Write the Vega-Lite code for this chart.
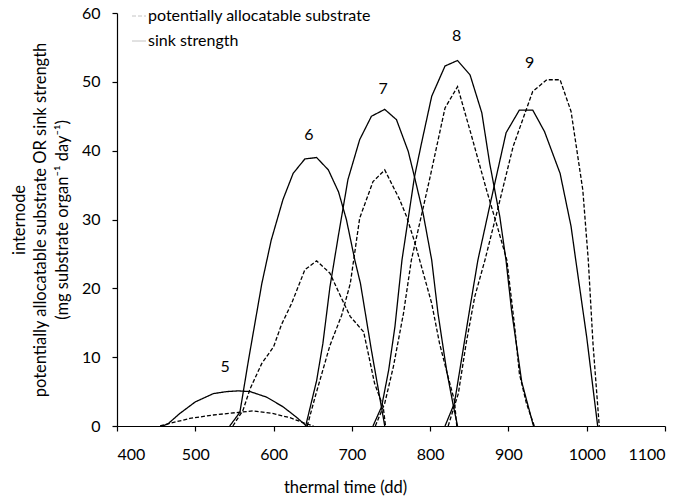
{
  "$schema": "https://vega.github.io/schema/vega-lite/v6.json",
  "width": 548,
  "height": 413,
  "autosize": "none",
  "padding": {"left": 117, "top": 13, "right": 29, "bottom": 72},
  "background": "white",
  "config": {
    "view": {"stroke": null},
    "font": "Lato",
    "axis": {
      "grid": false,
      "domainColor": "#000000",
      "domainWidth": 1.2,
      "tickColor": "#000000",
      "tickWidth": 1.2,
      "tickSize": 5,
      "labelColor": "#000000",
      "labelFont": "Lato",
      "labelFontSize": 16,
      "titleColor": "#000000",
      "titleFont": "Lato",
      "titleFontSize": 16.5,
      "titleFontWeight": "normal"
    },
    "legend": {
      "orient": "none",
      "legendX": 14,
      "legendY": -5,
      "labelFont": "Lato",
      "labelFontSize": 16,
      "labelColor": "#000000",
      "labelLimit": 400,
      "symbolType": "stroke",
      "symbolSize": 196,
      "symbolStrokeWidth": 1,
      "symbolStrokeColor": "#c4c4c4",
      "rowPadding": 9,
      "labelOffset": 1,
      "padding": 0
    }
  },
  "datasets": {
    "curves": [
      {"internode": 5, "series": "sink strength", "tt": 458, "value": 0},
      {"internode": 5, "series": "sink strength", "tt": 465, "value": 0.3},
      {"internode": 5, "series": "sink strength", "tt": 480, "value": 1.8},
      {"internode": 5, "series": "sink strength", "tt": 500, "value": 3.5},
      {"internode": 5, "series": "sink strength", "tt": 523, "value": 4.7},
      {"internode": 5, "series": "sink strength", "tt": 540, "value": 5.0},
      {"internode": 5, "series": "sink strength", "tt": 555, "value": 5.1},
      {"internode": 5, "series": "sink strength", "tt": 570, "value": 5.0},
      {"internode": 5, "series": "sink strength", "tt": 591, "value": 4.2},
      {"internode": 5, "series": "sink strength", "tt": 612, "value": 2.8},
      {"internode": 5, "series": "sink strength", "tt": 629, "value": 1.3},
      {"internode": 5, "series": "sink strength", "tt": 642, "value": 0},

      {"internode": 6, "series": "sink strength", "tt": 544, "value": 0},
      {"internode": 6, "series": "sink strength", "tt": 557, "value": 2.0},
      {"internode": 6, "series": "sink strength", "tt": 568, "value": 9.6},
      {"internode": 6, "series": "sink strength", "tt": 585, "value": 20.7},
      {"internode": 6, "series": "sink strength", "tt": 597, "value": 27.0},
      {"internode": 6, "series": "sink strength", "tt": 612, "value": 32.9},
      {"internode": 6, "series": "sink strength", "tt": 625, "value": 36.7},
      {"internode": 6, "series": "sink strength", "tt": 640, "value": 38.8},
      {"internode": 6, "series": "sink strength", "tt": 655, "value": 39.0},
      {"internode": 6, "series": "sink strength", "tt": 670, "value": 37.2},
      {"internode": 6, "series": "sink strength", "tt": 683, "value": 34.0},
      {"internode": 6, "series": "sink strength", "tt": 693, "value": 30.0},
      {"internode": 6, "series": "sink strength", "tt": 704, "value": 24.0},
      {"internode": 6, "series": "sink strength", "tt": 711, "value": 20.7},
      {"internode": 6, "series": "sink strength", "tt": 725, "value": 11.0},
      {"internode": 6, "series": "sink strength", "tt": 742, "value": 0},

      {"internode": 7, "series": "sink strength", "tt": 641, "value": 0},
      {"internode": 7, "series": "sink strength", "tt": 655, "value": 6.6},
      {"internode": 7, "series": "sink strength", "tt": 663, "value": 12.0},
      {"internode": 7, "series": "sink strength", "tt": 672, "value": 20.2},
      {"internode": 7, "series": "sink strength", "tt": 683, "value": 27.8},
      {"internode": 7, "series": "sink strength", "tt": 695, "value": 35.8},
      {"internode": 7, "series": "sink strength", "tt": 710, "value": 41.6},
      {"internode": 7, "series": "sink strength", "tt": 725, "value": 45.0},
      {"internode": 7, "series": "sink strength", "tt": 742, "value": 46.0},
      {"internode": 7, "series": "sink strength", "tt": 757, "value": 44.5},
      {"internode": 7, "series": "sink strength", "tt": 772, "value": 39.9},
      {"internode": 7, "series": "sink strength", "tt": 780, "value": 36.2},
      {"internode": 7, "series": "sink strength", "tt": 791, "value": 30.9},
      {"internode": 7, "series": "sink strength", "tt": 802, "value": 24.1},
      {"internode": 7, "series": "sink strength", "tt": 810, "value": 16.4},
      {"internode": 7, "series": "sink strength", "tt": 821, "value": 8.1},
      {"internode": 7, "series": "sink strength", "tt": 829, "value": 3.3},
      {"internode": 7, "series": "sink strength", "tt": 835, "value": 0},

      {"internode": 8, "series": "sink strength", "tt": 727, "value": 0},
      {"internode": 8, "series": "sink strength", "tt": 738, "value": 2.8},
      {"internode": 8, "series": "sink strength", "tt": 747, "value": 8.1},
      {"internode": 8, "series": "sink strength", "tt": 755, "value": 14.4},
      {"internode": 8, "series": "sink strength", "tt": 764, "value": 24.1},
      {"internode": 8, "series": "sink strength", "tt": 780, "value": 36.2},
      {"internode": 8, "series": "sink strength", "tt": 789, "value": 41.1},
      {"internode": 8, "series": "sink strength", "tt": 802, "value": 47.9},
      {"internode": 8, "series": "sink strength", "tt": 819, "value": 52.3},
      {"internode": 8, "series": "sink strength", "tt": 835, "value": 53.1},
      {"internode": 8, "series": "sink strength", "tt": 851, "value": 51.0},
      {"internode": 8, "series": "sink strength", "tt": 866, "value": 45.5},
      {"internode": 8, "series": "sink strength", "tt": 876, "value": 38.2},
      {"internode": 8, "series": "sink strength", "tt": 889, "value": 30.4},
      {"internode": 8, "series": "sink strength", "tt": 897, "value": 24.0},
      {"internode": 8, "series": "sink strength", "tt": 904, "value": 16.8},
      {"internode": 8, "series": "sink strength", "tt": 917, "value": 6.4},
      {"internode": 8, "series": "sink strength", "tt": 932, "value": 0},

      {"internode": 9, "series": "sink strength", "tt": 819, "value": 0},
      {"internode": 9, "series": "sink strength", "tt": 831, "value": 3.3},
      {"internode": 9, "series": "sink strength", "tt": 840, "value": 9.6},
      {"internode": 9, "series": "sink strength", "tt": 851, "value": 17.3},
      {"internode": 9, "series": "sink strength", "tt": 861, "value": 24.1},
      {"internode": 9, "series": "sink strength", "tt": 876, "value": 31.9},
      {"internode": 9, "series": "sink strength", "tt": 897, "value": 42.6},
      {"internode": 9, "series": "sink strength", "tt": 914, "value": 45.9},
      {"internode": 9, "series": "sink strength", "tt": 931, "value": 45.9},
      {"internode": 9, "series": "sink strength", "tt": 946, "value": 42.8},
      {"internode": 9, "series": "sink strength", "tt": 966, "value": 36.7},
      {"internode": 9, "series": "sink strength", "tt": 980, "value": 29.0},
      {"internode": 9, "series": "sink strength", "tt": 986, "value": 24.1},
      {"internode": 9, "series": "sink strength", "tt": 1000, "value": 12.9},
      {"internode": 9, "series": "sink strength", "tt": 1014, "value": 0},

      {"internode": 5, "series": "potentially allocatable substrate", "tt": 455, "value": 0},
      {"internode": 5, "series": "potentially allocatable substrate", "tt": 468, "value": 0.4},
      {"internode": 5, "series": "potentially allocatable substrate", "tt": 493, "value": 1.1},
      {"internode": 5, "series": "potentially allocatable substrate", "tt": 523, "value": 1.6},
      {"internode": 5, "series": "potentially allocatable substrate", "tt": 557, "value": 2.0},
      {"internode": 5, "series": "potentially allocatable substrate", "tt": 574, "value": 2.2},
      {"internode": 5, "series": "potentially allocatable substrate", "tt": 600, "value": 1.8},
      {"internode": 5, "series": "potentially allocatable substrate", "tt": 621, "value": 1.2},
      {"internode": 5, "series": "potentially allocatable substrate", "tt": 640, "value": 0.4},
      {"internode": 5, "series": "potentially allocatable substrate", "tt": 651, "value": 0},

      {"internode": 6, "series": "potentially allocatable substrate", "tt": 548, "value": 0},
      {"internode": 6, "series": "potentially allocatable substrate", "tt": 561, "value": 2.3},
      {"internode": 6, "series": "potentially allocatable substrate", "tt": 570, "value": 5.4},
      {"internode": 6, "series": "potentially allocatable substrate", "tt": 585, "value": 9.1},
      {"internode": 6, "series": "potentially allocatable substrate", "tt": 600, "value": 11.5},
      {"internode": 6, "series": "potentially allocatable substrate", "tt": 610, "value": 14.7},
      {"internode": 6, "series": "potentially allocatable substrate", "tt": 623, "value": 17.8},
      {"internode": 6, "series": "potentially allocatable substrate", "tt": 640, "value": 22.7},
      {"internode": 6, "series": "potentially allocatable substrate", "tt": 655, "value": 24.0},
      {"internode": 6, "series": "potentially allocatable substrate", "tt": 672, "value": 22.2},
      {"internode": 6, "series": "potentially allocatable substrate", "tt": 687, "value": 18.5},
      {"internode": 6, "series": "potentially allocatable substrate", "tt": 698, "value": 15.9},
      {"internode": 6, "series": "potentially allocatable substrate", "tt": 711, "value": 14.2},
      {"internode": 6, "series": "potentially allocatable substrate", "tt": 715, "value": 13.7},
      {"internode": 6, "series": "potentially allocatable substrate", "tt": 721, "value": 10.5},
      {"internode": 6, "series": "potentially allocatable substrate", "tt": 729, "value": 6.2},
      {"internode": 6, "series": "potentially allocatable substrate", "tt": 740, "value": 2.8},
      {"internode": 6, "series": "potentially allocatable substrate", "tt": 743, "value": 0},

      {"internode": 7, "series": "potentially allocatable substrate", "tt": 643, "value": 0},
      {"internode": 7, "series": "potentially allocatable substrate", "tt": 653, "value": 4.2},
      {"internode": 7, "series": "potentially allocatable substrate", "tt": 672, "value": 11.7},
      {"internode": 7, "series": "potentially allocatable substrate", "tt": 687, "value": 16.1},
      {"internode": 7, "series": "potentially allocatable substrate", "tt": 698, "value": 20.7},
      {"internode": 7, "series": "potentially allocatable substrate", "tt": 710, "value": 30.2},
      {"internode": 7, "series": "potentially allocatable substrate", "tt": 727, "value": 35.5},
      {"internode": 7, "series": "potentially allocatable substrate", "tt": 742, "value": 37.2},
      {"internode": 7, "series": "potentially allocatable substrate", "tt": 761, "value": 32.9},
      {"internode": 7, "series": "potentially allocatable substrate", "tt": 770, "value": 30.4},
      {"internode": 7, "series": "potentially allocatable substrate", "tt": 780, "value": 26.8},
      {"internode": 7, "series": "potentially allocatable substrate", "tt": 793, "value": 21.5},
      {"internode": 7, "series": "potentially allocatable substrate", "tt": 802, "value": 17.8},
      {"internode": 7, "series": "potentially allocatable substrate", "tt": 812, "value": 12.0},
      {"internode": 7, "series": "potentially allocatable substrate", "tt": 823, "value": 7.1},
      {"internode": 7, "series": "potentially allocatable substrate", "tt": 831, "value": 3.7},
      {"internode": 7, "series": "potentially allocatable substrate", "tt": 834, "value": 0},

      {"internode": 8, "series": "potentially allocatable substrate", "tt": 730, "value": 0},
      {"internode": 8, "series": "potentially allocatable substrate", "tt": 742, "value": 3.3},
      {"internode": 8, "series": "potentially allocatable substrate", "tt": 753, "value": 8.6},
      {"internode": 8, "series": "potentially allocatable substrate", "tt": 766, "value": 16.4},
      {"internode": 8, "series": "potentially allocatable substrate", "tt": 776, "value": 24.1},
      {"internode": 8, "series": "potentially allocatable substrate", "tt": 800, "value": 36.2},
      {"internode": 8, "series": "potentially allocatable substrate", "tt": 819, "value": 46.2},
      {"internode": 8, "series": "potentially allocatable substrate", "tt": 835, "value": 49.3},
      {"internode": 8, "series": "potentially allocatable substrate", "tt": 853, "value": 42.1},
      {"internode": 8, "series": "potentially allocatable substrate", "tt": 872, "value": 34.3},
      {"internode": 8, "series": "potentially allocatable substrate", "tt": 887, "value": 28.5},
      {"internode": 8, "series": "potentially allocatable substrate", "tt": 898, "value": 24.1},
      {"internode": 8, "series": "potentially allocatable substrate", "tt": 908, "value": 14.4},
      {"internode": 8, "series": "potentially allocatable substrate", "tt": 914, "value": 7.6},
      {"internode": 8, "series": "potentially allocatable substrate", "tt": 923, "value": 3.3},
      {"internode": 8, "series": "potentially allocatable substrate", "tt": 933, "value": 0},

      {"internode": 9, "series": "potentially allocatable substrate", "tt": 823, "value": 0},
      {"internode": 9, "series": "potentially allocatable substrate", "tt": 836, "value": 4.7},
      {"internode": 9, "series": "potentially allocatable substrate", "tt": 846, "value": 12.0},
      {"internode": 9, "series": "potentially allocatable substrate", "tt": 857, "value": 18.8},
      {"internode": 9, "series": "potentially allocatable substrate", "tt": 870, "value": 24.1},
      {"internode": 9, "series": "potentially allocatable substrate", "tt": 885, "value": 30.9},
      {"internode": 9, "series": "potentially allocatable substrate", "tt": 906, "value": 40.6},
      {"internode": 9, "series": "potentially allocatable substrate", "tt": 931, "value": 48.6},
      {"internode": 9, "series": "potentially allocatable substrate", "tt": 949, "value": 50.3},
      {"internode": 9, "series": "potentially allocatable substrate", "tt": 966, "value": 50.3},
      {"internode": 9, "series": "potentially allocatable substrate", "tt": 980, "value": 45.7},
      {"internode": 9, "series": "potentially allocatable substrate", "tt": 995, "value": 34.3},
      {"internode": 9, "series": "potentially allocatable substrate", "tt": 1002, "value": 24.1},
      {"internode": 9, "series": "potentially allocatable substrate", "tt": 1008, "value": 12.0},
      {"internode": 9, "series": "potentially allocatable substrate", "tt": 1016, "value": 0}
    ],
    "labels": [
      {"label": "5", "tt": 538, "value": 8.5},
      {"label": "6", "tt": 645, "value": 42.3},
      {"label": "7", "tt": 740, "value": 48.9},
      {"label": "8", "tt": 834, "value": 56.6},
      {"label": "9", "tt": 927, "value": 52.8}
    ]
  },
  "layer": [
    {
      "data": {"name": "curves"},
      "mark": {"type": "line", "color": "#000000", "strokeWidth": 1.3},
      "encoding": {
        "x": {
          "field": "tt",
          "type": "quantitative",
          "scale": {"domain": [400, 1100], "nice": false, "zero": false},
          "axis": {
            "values": [400, 500, 600, 700, 800, 900, 1000, 1100],
            "format": "d",
            "labelPadding": 15,
            "title": "thermal time (dd)",
            "titleX": 228,
            "titleY": 61,
            "titleBaseline": "middle",
            "titleAnchor": "middle"
          }
        },
        "y": {
          "field": "value",
          "type": "quantitative",
          "scale": {"domain": [0, 60], "nice": false},
          "axis": {
            "values": [0, 10, 20, 30, 40, 50, 60],
            "labelPadding": 12,
            "title": ["internode", "potentially allocatable substrate OR sink strength", "(mg substrate organ⁻¹ day⁻¹)"],
            "titleLineHeight": 21.5,
            "titleX": -90,
            "titleBaseline": "bottom"
          }
        },
        "detail": {"field": "internode", "type": "nominal"},
        "strokeDash": {
          "field": "series",
          "type": "nominal",
          "scale": {
            "domain": ["potentially allocatable substrate", "sink strength"],
            "range": [[4, 2], [1, 0]]
          },
          "legend": {"title": null}
        }
      }
    },
    {
      "data": {"name": "labels"},
      "mark": {"type": "text", "font": "Lato", "fontSize": 16, "color": "#000000", "baseline": "middle", "align": "center"},
      "encoding": {
        "x": {"field": "tt", "type": "quantitative"},
        "y": {"field": "value", "type": "quantitative"},
        "text": {"field": "label", "type": "nominal"}
      }
    }
  ]
}
